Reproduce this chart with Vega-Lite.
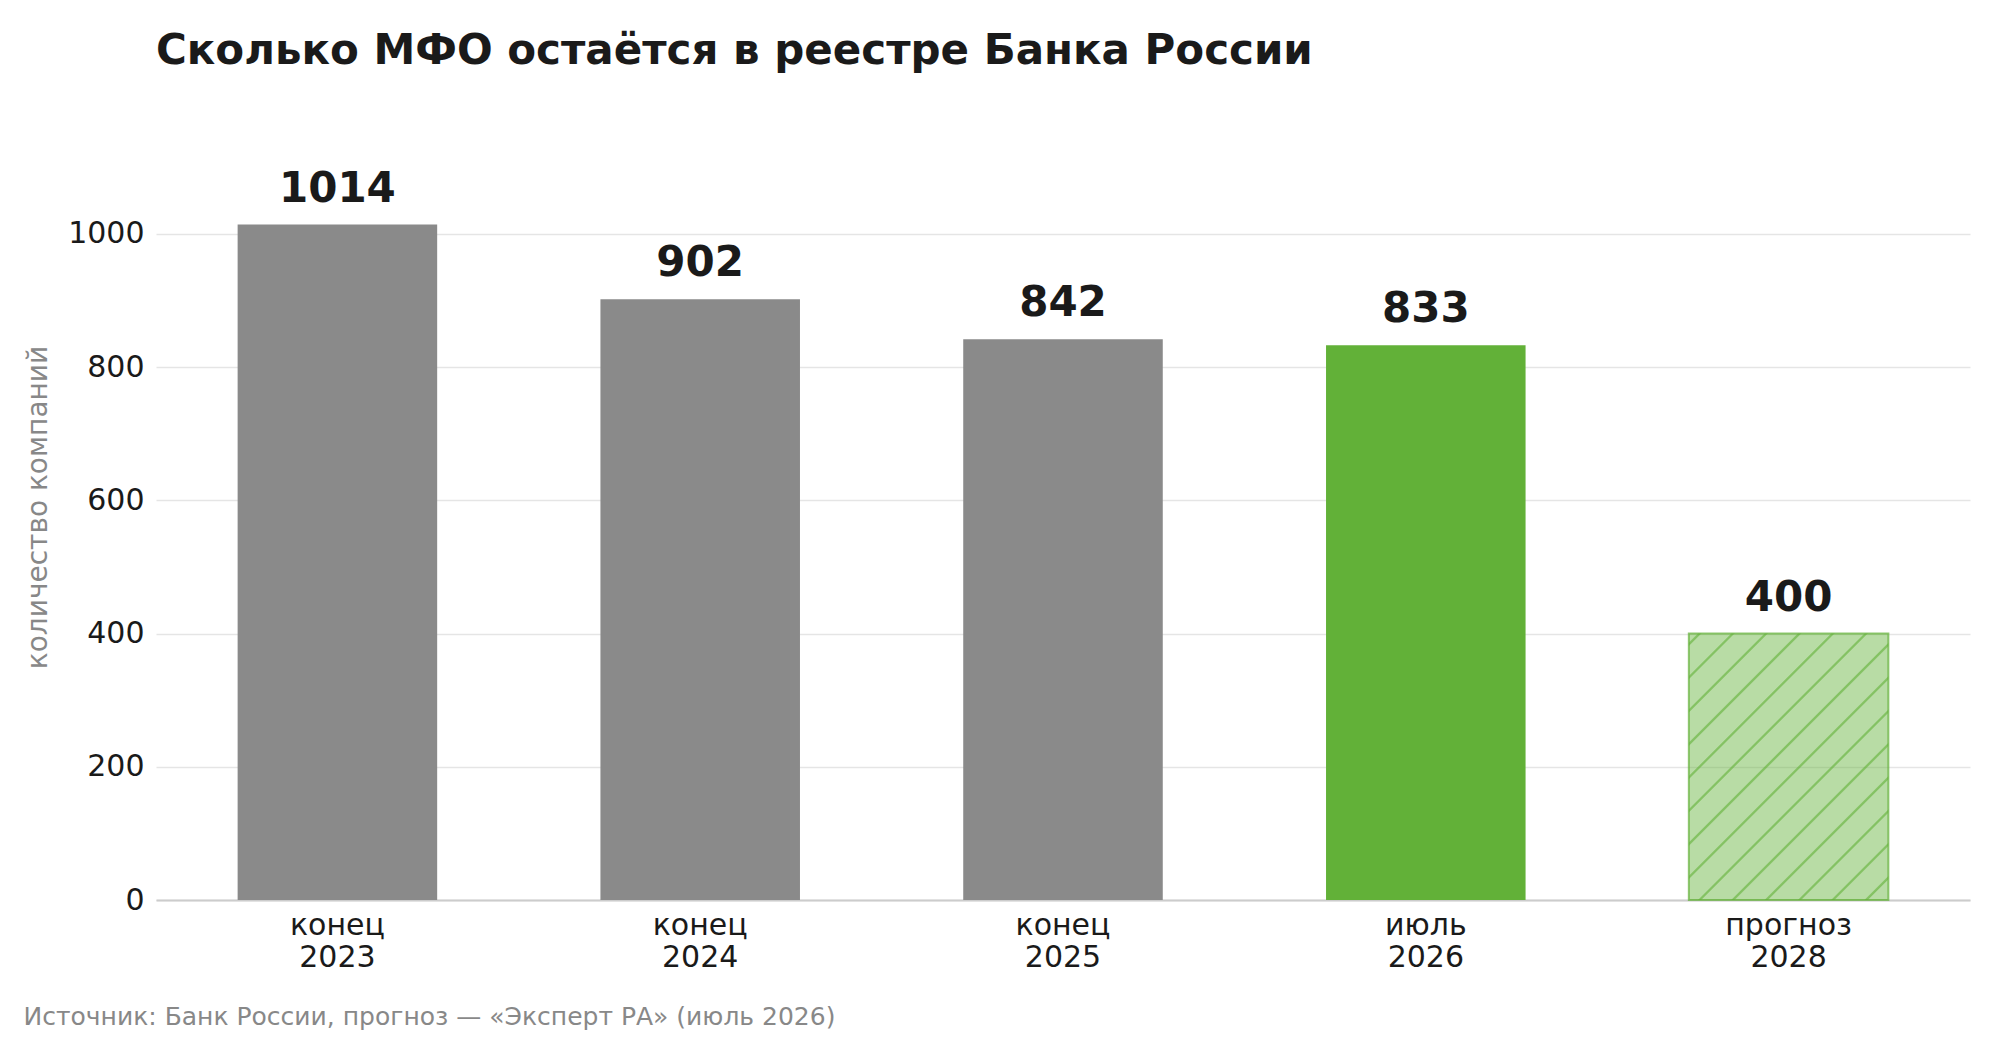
{
  "$schema": "https://vega.github.io/schema/vega-lite/v6.json",
  "width": 1814,
  "height": 786,
  "autosize": {"type": "none"},
  "padding": {"left": 156, "top": 114, "right": 30, "bottom": 140},
  "background": "white",
  "title": {
    "text": "Сколько МФО остаётся в реестре Банка России",
    "anchor": "start",
    "frame": "group",
    "font": "DejaVu Sans",
    "fontSize": 42,
    "fontWeight": "bold",
    "color": "#1a1a1a",
    "offset": 41
  },
  "data": {
    "values": [
      {"period": "конец 2023", "count": 1014, "kind": "факт"},
      {"period": "конец 2024", "count": 902, "kind": "факт"},
      {"period": "конец 2025", "count": 842, "kind": "факт"},
      {"period": "июль 2026", "count": 833, "kind": "текущий"},
      {"period": "прогноз 2028", "count": 400, "kind": "прогноз"}
    ]
  },
  "encoding": {
    "x": {
      "field": "period",
      "type": "nominal",
      "sort": null,
      "scale": {
        "domain": ["конец 2023", "конец 2024", "конец 2025", "июль 2026", "прогноз 2028"],
        "paddingInner": 0.45,
        "paddingOuter": 0.225
      },
      "axis": {
        "title": "Источник: Банк России, прогноз — «Эксперт РА» (июль 2026)",
        "titleFont": "DejaVu Sans",
        "titleFontSize": 25,
        "titleFontWeight": "normal",
        "titleColor": "#888888",
        "titleAnchor": "start",
        "titleAlign": "left",
        "titleBaseline": "alphabetic",
        "titleX": -133,
        "titleY": 124,
        "labelAngle": 0,
        "labelExpr": "split(datum.label, ' ')",
        "labelFont": "DejaVu Sans",
        "labelFontSize": 30,
        "labelColor": "#1a1a1a",
        "labelLineHeight": 32,
        "labelPadding": 10,
        "ticks": false,
        "grid": false,
        "domainColor": "#cccccc",
        "domainWidth": 2
      }
    },
    "y": {
      "field": "count",
      "type": "quantitative",
      "scale": {"domain": [0, 1180], "nice": false},
      "axis": {
        "title": "количество компаний",
        "titleFont": "DejaVu Sans",
        "titleFontSize": 28,
        "titleFontWeight": "normal",
        "titleColor": "#888888",
        "titlePadding": 15,
        "values": [0, 200, 400, 600, 800, 1000],
        "format": "d",
        "labelFont": "DejaVu Sans",
        "labelFontSize": 30,
        "labelColor": "#1a1a1a",
        "labelPadding": 12,
        "ticks": false,
        "domain": false,
        "gridColor": "#e5e5e5",
        "gridWidth": 1.6
      }
    }
  },
  "layer": [
    {
      "mark": {"type": "bar"},
      "encoding": {
        "color": {
          "field": "kind",
          "type": "nominal",
          "scale": {
            "domain": ["факт", "текущий", "прогноз"],
            "range": ["#8a8a8a", "#62b138", "rgba(98,177,56,0.45)"]
          },
          "legend": null
        }
      }
    },
    {
      "transform": [{"filter": "datum.kind == 'прогноз'"}],
      "mark": {
        "type": "bar",
        "stroke": "rgba(98,177,56,0.7)",
        "strokeWidth": 2,
        "fill": {
          "gradient": "linear",
          "x1": 0, "y1": 0, "x2": 0.839, "y2": 1.12,
          "stops": [
            {"offset": 0, "color": "rgba(98,177,56,0)"},
            {"offset": 0.0180, "color": "rgba(98,177,56,0)"},
            {"offset": 0.0210, "color": "rgba(98,177,56,0.6)"},
            {"offset": 0.0250, "color": "rgba(98,177,56,0.6)"},
            {"offset": 0.0280, "color": "rgba(98,177,56,0)"},
            {"offset": 0.0895, "color": "rgba(98,177,56,0)"},
            {"offset": 0.0925, "color": "rgba(98,177,56,0.6)"},
            {"offset": 0.0965, "color": "rgba(98,177,56,0.6)"},
            {"offset": 0.0995, "color": "rgba(98,177,56,0)"},
            {"offset": 0.1610, "color": "rgba(98,177,56,0)"},
            {"offset": 0.1640, "color": "rgba(98,177,56,0.6)"},
            {"offset": 0.1680, "color": "rgba(98,177,56,0.6)"},
            {"offset": 0.1710, "color": "rgba(98,177,56,0)"},
            {"offset": 0.2325, "color": "rgba(98,177,56,0)"},
            {"offset": 0.2355, "color": "rgba(98,177,56,0.6)"},
            {"offset": 0.2395, "color": "rgba(98,177,56,0.6)"},
            {"offset": 0.2425, "color": "rgba(98,177,56,0)"},
            {"offset": 0.3040, "color": "rgba(98,177,56,0)"},
            {"offset": 0.3070, "color": "rgba(98,177,56,0.6)"},
            {"offset": 0.3110, "color": "rgba(98,177,56,0.6)"},
            {"offset": 0.3140, "color": "rgba(98,177,56,0)"},
            {"offset": 0.3755, "color": "rgba(98,177,56,0)"},
            {"offset": 0.3785, "color": "rgba(98,177,56,0.6)"},
            {"offset": 0.3825, "color": "rgba(98,177,56,0.6)"},
            {"offset": 0.3855, "color": "rgba(98,177,56,0)"},
            {"offset": 0.4470, "color": "rgba(98,177,56,0)"},
            {"offset": 0.4500, "color": "rgba(98,177,56,0.6)"},
            {"offset": 0.4540, "color": "rgba(98,177,56,0.6)"},
            {"offset": 0.4570, "color": "rgba(98,177,56,0)"},
            {"offset": 0.5185, "color": "rgba(98,177,56,0)"},
            {"offset": 0.5215, "color": "rgba(98,177,56,0.6)"},
            {"offset": 0.5255, "color": "rgba(98,177,56,0.6)"},
            {"offset": 0.5285, "color": "rgba(98,177,56,0)"},
            {"offset": 0.5900, "color": "rgba(98,177,56,0)"},
            {"offset": 0.5930, "color": "rgba(98,177,56,0.6)"},
            {"offset": 0.5970, "color": "rgba(98,177,56,0.6)"},
            {"offset": 0.6000, "color": "rgba(98,177,56,0)"},
            {"offset": 0.6615, "color": "rgba(98,177,56,0)"},
            {"offset": 0.6645, "color": "rgba(98,177,56,0.6)"},
            {"offset": 0.6685, "color": "rgba(98,177,56,0.6)"},
            {"offset": 0.6715, "color": "rgba(98,177,56,0)"},
            {"offset": 0.7330, "color": "rgba(98,177,56,0)"},
            {"offset": 0.7360, "color": "rgba(98,177,56,0.6)"},
            {"offset": 0.7400, "color": "rgba(98,177,56,0.6)"},
            {"offset": 0.7430, "color": "rgba(98,177,56,0)"},
            {"offset": 0.8045, "color": "rgba(98,177,56,0)"},
            {"offset": 0.8075, "color": "rgba(98,177,56,0.6)"},
            {"offset": 0.8115, "color": "rgba(98,177,56,0.6)"},
            {"offset": 0.8145, "color": "rgba(98,177,56,0)"},
            {"offset": 0.8760, "color": "rgba(98,177,56,0)"},
            {"offset": 0.8790, "color": "rgba(98,177,56,0.6)"},
            {"offset": 0.8830, "color": "rgba(98,177,56,0.6)"},
            {"offset": 0.8860, "color": "rgba(98,177,56,0)"},
            {"offset": 0.9475, "color": "rgba(98,177,56,0)"},
            {"offset": 0.9505, "color": "rgba(98,177,56,0.6)"},
            {"offset": 0.9545, "color": "rgba(98,177,56,0.6)"},
            {"offset": 0.9575, "color": "rgba(98,177,56,0)"},
            {"offset": 1, "color": "rgba(98,177,56,0)"}
          ]
        }
      }
    },
    {
      "mark": {
        "type": "text",
        "baseline": "alphabetic",
        "dy": -23,
        "font": "DejaVu Sans",
        "fontSize": 42,
        "fontWeight": "bold",
        "color": "#1a1a1a"
      },
      "encoding": {
        "text": {"field": "count", "type": "quantitative"}
      }
    }
  ],
  "config": {
    "view": {"stroke": null}
  }
}
